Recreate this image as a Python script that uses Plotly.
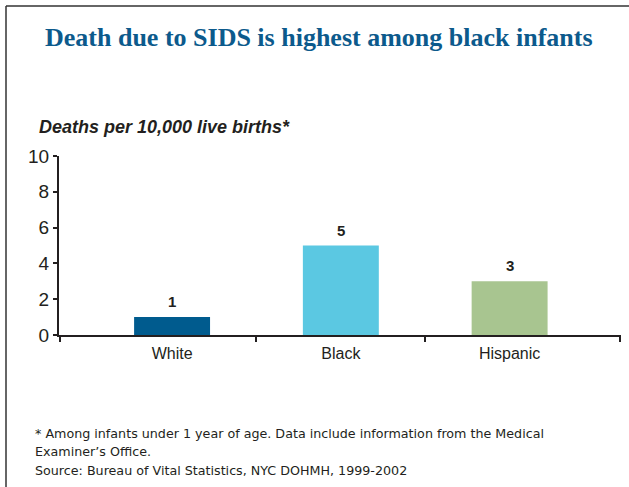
import plotly.graph_objects as go

categories = ["White", "Black", "Hispanic"]
values = [1, 5, 3]
value_labels = ["1", "5", "3"]
bar_colors = ["#005b8e", "#5bc8e2", "#a8c590"]
y_ticks = [0, 2, 4, 6, 8, 10]

W, H = 629, 487
L, R, T, B = 59, 8, 156, 152
pw, ph = W - L - R, H - T - B


def px(x):
    return (x - L) / pw


def py(y):
    return (H - B - y) / ph


xs = list(range(len(categories)))
fig = go.Figure()
fig.add_trace(go.Bar(x=xs, y=values, marker=dict(color=bar_colors, line=dict(width=0)),
                     width=0.45, hoverinfo="skip"))

for x, v, t in zip(xs, values, value_labels):
    fig.add_annotation(x=x, y=v, text="<b>" + t + "</b>", showarrow=False, yanchor="bottom",
                       yshift=5, font=dict(family="Liberation Sans, Arial", size=15, color="#231f20"))

axis_col = "#231f20"
fig.update_layout(
    width=W, height=H, margin=dict(l=L, r=R, t=T, b=B, autoexpand=False),
    paper_bgcolor="white", plot_bgcolor="white", showlegend=False,
    xaxis=dict(range=[-0.67, 2.66], tickmode="array", tickvals=xs, ticktext=categories,
               ticks="", showgrid=False, zeroline=False, showline=True, linecolor=axis_col,
               linewidth=2, ticklabelstandoff=3,
               tickfont=dict(family="Liberation Sans, Arial", size=16, color="#231f20"),
               minor=dict(tickmode="array", tickvals=[-0.665, 0.5, 1.5, 2.655], ticks="outside",
                          ticklen=5, tickwidth=2, tickcolor=axis_col, showgrid=False),
               fixedrange=True),
    yaxis=dict(range=[0, 10], tickmode="array", tickvals=y_ticks, ticks="outside", ticklen=4,
               tickwidth=2, tickcolor=axis_col, showgrid=False, zeroline=False, showline=True,
               linecolor=axis_col, linewidth=2,
               tickfont=dict(family="Liberation Sans, Arial", size=19, color="#231f20"),
               fixedrange=True),
)

# frame lines (left and top)
fig.add_shape(type="line", xref="paper", yref="paper", x0=px(6), x1=px(6), y0=py(6), y1=py(H + 5),
              line=dict(color="#333333", width=1.5))
fig.add_shape(type="line", xref="paper", yref="paper", x0=px(6), x1=px(W + 5), y0=py(6), y1=py(6),
              line=dict(color="#333333", width=1.5))

fig.add_annotation(xref="paper", yref="paper", x=px(319), y=py(38), xanchor="center", yanchor="middle",
                   text="<b>Death due to SIDS is highest among black infants</b>", showarrow=False,
                   font=dict(family="Liberation Serif, Times New Roman", size=26, color="#0c5a8c"))
fig.add_annotation(xref="paper", yref="paper", x=px(37), y=py(127), xanchor="left", yanchor="middle",
                   text="<b><i>Deaths per 10,000 live births*</i></b>", showarrow=False,
                   font=dict(family="Liberation Sans, Arial", size=18, color="#231f20"))

foot = ["* Among infants under 1 year of age. Data include information from the Medical",
        "Examiner\u2019s Office.",
        "Source: Bureau of Vital Statistics, NYC DOHMH, 1999-2002"]
for i, line in enumerate(foot):
    fig.add_annotation(xref="paper", yref="paper", x=px(33), y=py(433 + 18.5 * i), xanchor="left",
                       yanchor="middle", text=line, showarrow=False,
                       font=dict(family="DejaVu Sans, Verdana", size=12.7, color="#231f20"))

fig.write_html("out.html", config={"displayModeBar": False},
               post_script="document.body.style.margin='0';document.body.style.overflow='hidden';")
